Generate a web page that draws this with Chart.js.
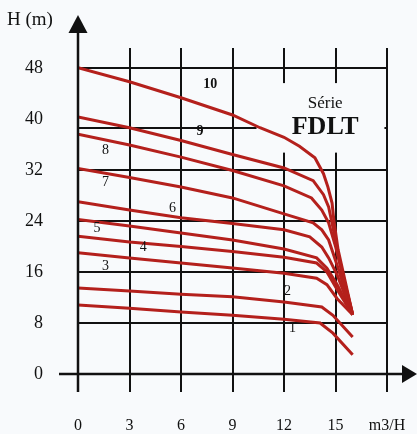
<!DOCTYPE html>
<html>
<head>
<meta charset="utf-8">
<script src="https://cdn.jsdelivr.net/npm/chart.js@4.4.1/dist/chart.umd.min.js"></script>
<style>
  html, body { margin: 0; padding: 0; background: #f8fafc; }
  canvas { display: block; }
</style>
</head>
<body>
<canvas id="pump" width="417" height="434"></canvas>
<script>
// flow (m3/H) and head (m) for each curve of the FDLT range
const q1 = [0, 3, 6, 9, 12, 14.1, 14.85, 16];
const h1 = [10.8, 10.3, 9.7, 9.2, 8.6, 8.0, 6.4, 3.0];
const q2 = [0, 3, 6, 9, 12, 14.2, 14.85, 16];
const h2 = [13.5, 13.0, 12.5, 12.1, 11.3, 10.5, 9.2, 5.8];
const q3 = [0, 3, 6, 9, 12, 13.9, 14.5, 15.1, 16];
const h3 = [19.0, 18.2, 17.4, 16.6, 15.8, 15.0, 14.0, 11.8, 9.3];
const q4 = [0, 3, 6, 9, 12, 13.9, 14.5, 15.1, 16];
const h4 = [21.6, 20.7, 20.0, 19.2, 18.3, 17.4, 16.0, 13.2, 9.3];
const q5 = [0, 3, 6, 9, 12, 13.9, 14.5, 15.1, 16];
const h5 = [24.2, 23.2, 22.1, 21.0, 19.6, 18.2, 16.6, 14.0, 9.3];
const q6 = [0, 3, 6, 9, 12, 13.5, 14.2, 14.6, 15.1, 16];
const h6 = [27.0, 25.7, 24.5, 23.6, 22.6, 21.5, 19.9, 18.2, 15.5, 9.3];
const q7 = [0, 3, 6, 9, 12, 13.7, 14.2, 14.6, 15.1, 16];
const h7 = [32.2, 30.8, 29.3, 27.6, 25.1, 23.7, 22.6, 21.0, 17.0, 9.3];
const q8 = [0, 3, 6, 9, 12, 13.6, 14.2, 14.6, 15.0, 16];
const h8 = [37.6, 35.9, 34.0, 31.9, 29.5, 27.6, 25.7, 23.7, 20.0, 9.3];
const q9 = [0, 3, 6, 9, 12, 13.7, 14.3, 14.6, 14.85, 15.2, 16];
const h9 = [40.3, 38.6, 36.6, 34.4, 32.3, 30.3, 28.1, 26.2, 23.0, 18.0, 9.3];
const q10 = [0, 3, 6, 9, 10.6, 12, 12.9, 13.8, 14.3, 14.56, 14.8, 14.9, 15.15, 16];
const h10 = [48, 45.8, 43.3, 40.6, 38.6, 37.1, 35.7, 33.9, 31.4, 29.3, 26.8, 24.2, 19.5, 9.3];

const curveNames = ['1', '2', '3', '4', '5', '6', '7', '8', '9', '10'];
const flows = [q1, q2, q3, q4, q5, q6, q7, q8, q9, q10];
const heads = [h1, h2, h3, h4, h5, h6, h7, h8, h9, h10];

// where each curve number is written (flow, head)
const nameQ = [12.5, 12.2, 1.6, 3.8, 1.1, 5.5, 1.6, 1.6, 7.1, 7.7];
const nameH = [7.1, 13.0, 16.8, 19.8, 22.9, 26.0, 30.0, 35.0, 38.1, 45.4];

const xTicks = [0, 3, 6, 9, 12, 15, 18];
const yLabels = [0, 8, 16, 24, 32, 40, 48];
const yGridLines = [0, 8, 16, 24, 32, 38.5, 48];

const RED = 'rgb(180, 32, 28)';
const INK = '#111';
const SERIF = "'Liberation Serif', 'DejaVu Serif', serif";

const datasets = curveNames.map((name, i) => ({
  label: name,
  data: flows[i].map((q, j) => ({ x: q, y: heads[i][j] })),
  showLine: true,
  borderColor: RED,
  backgroundColor: RED,
  borderWidth: 3,
  pointRadius: 0,
  tension: 0,
}));

const decor = {
  id: 'decor',
  beforeDraw(chart) {
    const c = chart.ctx;
    c.save();
    c.fillStyle = '#f8fafc';
    c.fillRect(0, 0, chart.width, chart.height);
    c.restore();
  },
  beforeDatasetsDraw(chart) {
    // blank panel behind the series title
    const { x, y } = chart.scales;
    const c = chart.ctx;
    c.save();
    c.fillStyle = '#f8fafc';
    const l = x.getPixelForValue(10.4), r = x.getPixelForValue(17.85);
    const t = y.getPixelForValue(45.6), b = y.getPixelForValue(34.7);
    c.fillRect(l, t, r - l, b - t);
    c.restore();
  },
  afterDatasetsDraw(chart) {
    const { x, y } = chart.scales;
    const area = chart.chartArea;
    const c = chart.ctx;
    c.save();
    // axes with arrows
    const x0 = x.getPixelForValue(0);
    const y0 = y.getPixelForValue(0);
    c.strokeStyle = INK;
    c.fillStyle = INK;
    c.lineWidth = 2.5;
    c.beginPath();
    c.moveTo(x0, area.top - 16);
    c.lineTo(x0, area.bottom + 18);
    c.moveTo(x0 - 19, y0);
    c.lineTo(area.right + 16, y0);
    c.stroke();
    c.beginPath();
    c.moveTo(x0, area.top - 33);
    c.lineTo(x0 - 9.5, area.top - 15);
    c.lineTo(x0 + 9.5, area.top - 15);
    c.closePath();
    c.fill();
    c.beginPath();
    c.moveTo(area.right + 30, y0);
    c.lineTo(area.right + 15, y0 - 9);
    c.lineTo(area.right + 15, y0 + 9);
    c.closePath();
    c.fill();

    // axis title
    c.font = '19px ' + SERIF;
    c.textAlign = 'left';
    c.textBaseline = 'middle';
    c.fillText('H (m)', 7, area.top - 28);

    // curve numbers
    c.textAlign = 'center';
    curveNames.forEach((name, i) => {
      c.font = (name === '10' || name === '9' ? 'bold ' : '') + '14px ' + SERIF;
      c.fillText(name, x.getPixelForValue(nameQ[i]), y.getPixelForValue(nameH[i]));
    });

    // series title
    const cx = x.getPixelForValue(14.4);
    c.font = '17px ' + SERIF;
    c.fillText('Série', cx, y.getPixelForValue(42.4));
    c.font = 'bold 26px ' + SERIF;
    c.fillText('FDLT', cx, y.getPixelForValue(38.6));
    c.restore();
  }
};

new Chart(document.getElementById('pump'), {
  type: 'scatter',
  data: { datasets },
  options: {
    responsive: false,
    animation: false,
    layout: { padding: { left: 0, right: 30, top: 48, bottom: 0 } },
    plugins: { legend: { display: false }, tooltip: { enabled: false } },
    scales: {
      x: {
        type: 'linear',
        min: 0,
        max: 18,
        afterFit: s => { s.height = 60; s.paddingLeft = 0; s.paddingRight = 0; },
        afterBuildTicks: s => { s.ticks = xTicks.map(v => ({ value: v })); },
        border: { display: false },
        grid: { color: INK, lineWidth: 2, drawTicks: true, tickLength: 18, tickColor: INK, tickWidth: 2 },
        ticks: {
          padding: 24,
          color: INK,
          font: { family: SERIF, size: 16 },
          callback: v => (v === 18 ? 'm3/H' : String(v)),
        },
      },
      y: {
        type: 'linear',
        min: 0,
        max: 51.1,
        afterFit: s => { s.width = 78; s.paddingTop = 0; s.paddingBottom = 0; },
        afterBuildTicks: s => {
          const vals = Array.from(new Set([...yGridLines, ...yLabels])).sort((a, b) => a - b);
          s.ticks = vals.map(v => ({ value: v }));
        },
        border: { display: false },
        grid: {
          drawTicks: false,
          lineWidth: 2,
          color: ctx => {
            const v = ctx.tick ? ctx.tick.value : null;
            return v === 0 || !yGridLines.includes(v) ? 'rgba(0,0,0,0)' : INK;
          },
        },
        ticks: {
          padding: 35,
          color: INK,
          font: { family: SERIF, size: 18 },
          callback: v => (yLabels.includes(v) ? String(v) : ''),
        },
      },
    },
  },
  plugins: [decor],
});
</script>
</body>
</html>
